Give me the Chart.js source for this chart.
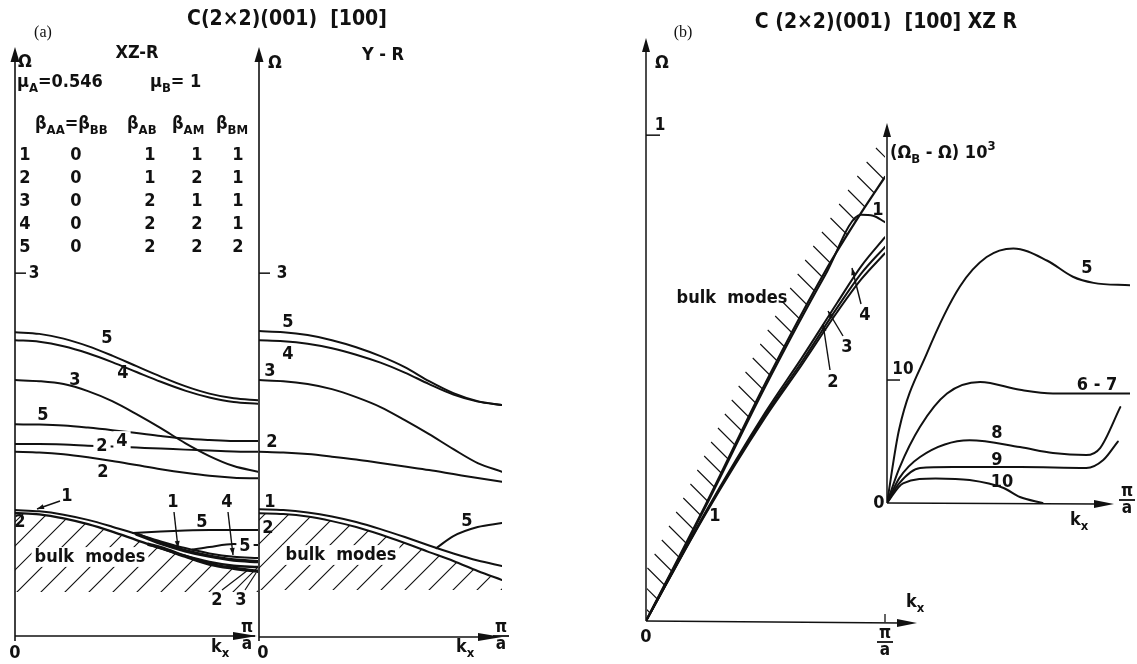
<!DOCTYPE html>
<html>
<head>
<meta charset="utf-8">
<script src="https://cdn.jsdelivr.net/npm/chart.js@4.4.0/dist/chart.umd.min.js"></script>
<style>
  html, body { margin: 0; padding: 0; background: #fff; overflow: hidden; }
  #wrap { position: relative; width: 1137px; height: 664px; }
  canvas { position: absolute; left: 0; top: 0; }
</style>
</head>
<body>
<div id="wrap">
  <canvas id="xz" width="1137" height="664"></canvas>
  <canvas id="yr" width="1137" height="664"></canvas>
  <canvas id="bm" width="1137" height="664"></canvas>
  <canvas id="bi" width="1137" height="664"></canvas>
</div>
<script>
// k_x in units of pi/a
const K11 = [0, 0.1, 0.2, 0.3, 0.4, 0.5, 0.6, 0.7, 0.8, 0.9, 1];

// (a) XZ-R, Omega values
const xz5  = [2.512, 2.498, 2.459, 2.397, 2.318, 2.231, 2.145, 2.066, 2.004, 1.965, 1.950];
const xz4  = [2.446, 2.433, 2.396, 2.338, 2.265, 2.183, 2.102, 2.029, 1.972, 1.934, 1.921];
const xz3  = [2.116, 2.107, 2.083, 2.025, 1.942, 1.835, 1.719, 1.595, 1.488, 1.405, 1.358];
const xz5m = [1.750, 1.748, 1.740, 1.723, 1.702, 1.678, 1.653, 1.632, 1.620, 1.612, 1.612];
const xz2m = [1.587, 1.587, 1.583, 1.574, 1.566, 1.558, 1.550, 1.541, 1.533, 1.526, 1.523];
const xz2l = [1.523, 1.517, 1.502, 1.477, 1.447, 1.413, 1.379, 1.349, 1.324, 1.309, 1.304];
const xz1  = [1.041, 1.031, 1.003, 0.960, 0.904, 0.843, 0.782, 0.727, 0.683, 0.655, 0.645];
const xz2b = [1.017, 1.006, 0.973, 0.925, 0.863, 0.793, 0.724, 0.662, 0.613, 0.581, 0.570];
const xz4bK = [0.5, 0.6, 0.7, 0.8, 0.9, 1.0];
const xz4b  = [0.843, 0.765, 0.705, 0.660, 0.628, 0.615];
const xz3bK = [0.55, 0.6, 0.7, 0.8, 0.9, 1.0];
const xz3b  = [0.758, 0.730, 0.660, 0.595, 0.560, 0.535];
const xz5cK = [0.486, 0.6, 0.7, 0.8, 0.9, 1.0];
const xz5c  = [0.851, 0.864, 0.872, 0.876, 0.876, 0.876];
const xz5dK = [0.73, 0.8, 0.9, 1.0];
const xz5d  = [0.715, 0.736, 0.760, 0.752];

// (a) Y-R
const yr5  = [2.521, 2.512, 2.488, 2.446, 2.388, 2.314, 2.223, 2.107, 2.008, 1.942, 1.909];
const yr4  = [2.446, 2.438, 2.417, 2.380, 2.326, 2.260, 2.178, 2.083, 1.996, 1.938, 1.909];
const yr3  = [2.116, 2.107, 2.083, 2.041, 1.975, 1.893, 1.785, 1.669, 1.545, 1.430, 1.358];
const yr2  = [1.523, 1.517, 1.504, 1.483, 1.459, 1.430, 1.401, 1.372, 1.339, 1.306, 1.275];
const yr1  = [1.047, 1.041, 1.021, 0.988, 0.942, 0.884, 0.818, 0.748, 0.682, 0.624, 0.579];
const yr2b = [1.014, 1.008, 0.988, 0.950, 0.901, 0.839, 0.769, 0.694, 0.620, 0.537, 0.463];
const yr5bK = [0.73, 0.8, 0.9, 1.0];
const yr5b  = [0.727, 0.826, 0.901, 0.934];

// (b) main, Omega
const bulkK = [0, 0.25, 0.5, 0.75, 0.9, 1];
const bulk  = [0, 0.24, 0.49, 0.72, 0.84, 0.914];
const b1K = [0, 0.25, 0.5, 0.75, 0.9, 0.95, 1];
const b1  = [0, 0.236, 0.483, 0.712, 0.836, 0.834, 0.821];
const bK  = [0, 0.25, 0.5, 0.65, 0.8, 0.9, 1];
const b4  = [0, 0.225, 0.430, 0.540, 0.655, 0.730, 0.790];
const b3  = [0, 0.223, 0.425, 0.532, 0.645, 0.715, 0.770];
const b2  = [0, 0.221, 0.420, 0.526, 0.636, 0.703, 0.757];

// (b) inset, (Omega_B - Omega) * 10^3
const in5K  = [0, 0.05, 0.165, 0.3, 0.41, 0.52, 0.66, 0.765, 0.85, 1];
const in5   = [0, 6.0, 12.2, 17.6, 20.0, 20.7, 19.7, 18.4, 17.9, 17.7];
const in67K = [0, 0.05, 0.136, 0.247, 0.383, 0.547, 0.683, 0.85, 1];
const in67  = [0, 2.8, 6.2, 8.9, 9.84, 9.2, 8.9, 8.9, 8.9];
const in8K  = [0, 0.05, 0.136, 0.34, 0.547, 0.683, 0.82, 0.877, 0.96];
const in8   = [0, 2.0, 3.74, 5.1, 4.55, 4.07, 3.9, 4.47, 7.8];
const in9K  = [0, 0.05, 0.136, 0.27, 0.55, 0.82, 0.89, 0.95];
const in9   = [0, 1.6, 2.85, 2.93, 2.93, 2.85, 3.5, 5.0];
const in10K = [0, 0.066, 0.2, 0.34, 0.48, 0.547, 0.64];
const in10  = [0, 1.6, 2.0, 1.87, 1.22, 0.49, 0];

const tabRows = [
  ['1', '0', '1', '1', '1'],
  ['2', '0', '1', '2', '1'],
  ['3', '0', '2', '1', '1'],
  ['4', '0', '2', '2', '1'],
  ['5', '0', '2', '2', '2']
];

const FONT = '"DejaVu Sans Condensed", "DejaVu Sans", sans-serif';
const INK = '#111';

function xy(ks, vs) { return vs.map((v, i) => ({ x: ks[i], y: v })); }
function ds(ks, vs, w) { return { data: xy(ks, vs), borderWidth: w || 2 }; }

function seg(ctx, x1, y1, x2, y2, w) {
  ctx.beginPath(); ctx.moveTo(x1, y1); ctx.lineTo(x2, y2);
  ctx.lineWidth = w || 1.5; ctx.strokeStyle = INK; ctx.stroke();
}
function head(ctx, x, y, ang, len, wid) {
  ctx.save(); ctx.translate(x, y); ctx.rotate(ang);
  ctx.beginPath(); ctx.moveTo(0, 0); ctx.lineTo(-len, -wid / 2); ctx.lineTo(-len, wid / 2); ctx.closePath();
  ctx.fillStyle = INK; ctx.fill(); ctx.restore();
}
function pointer(ctx, x1, y1, x2, y2) {
  seg(ctx, x1, y1, x2, y2, 1.4);
  head(ctx, x2, y2, Math.atan2(y2 - y1, x2 - x1), 7, 5);
}
function T(ctx, s, x, y, size, bg, align, fam) {
  ctx.font = (fam ? '' : 'bold ') + size + 'px ' + (fam || FONT);
  ctx.textAlign = align || 'center'; ctx.textBaseline = 'middle';
  if (bg) {
    const w = ctx.measureText(s).width;
    const x0 = align === 'left' ? x : x - w / 2;
    ctx.fillStyle = '#fff'; ctx.fillRect(x0 - 3, y - size * 0.55, w + 6, size * 1.1);
  }
  ctx.fillStyle = INK; ctx.fillText(s, x, y);
}
// left aligned text with sub/superscripts
function R(ctx, parts, x, y, size) {
  let cx = x;
  ctx.textAlign = 'left'; ctx.textBaseline = 'middle'; ctx.fillStyle = INK;
  for (const [t, m] of parts) {
    const s = m ? Math.round(size * 0.72) : size;
    ctx.font = 'bold ' + s + 'px ' + FONT;
    const dy = m === 'sub' ? size * 0.38 : m === 'sup' ? -size * 0.38 : 0;
    ctx.fillText(t, cx, y + dy);
    cx += ctx.measureText(t).width;
  }
}
function piA(ctx, x, y) {
  T(ctx, 'π', x, y, 17);
  seg(ctx, x - 8, y + 8, x + 8, y + 8, 1.8);
  T(ctx, 'a', x, y + 17, 17);
}
function kx(ctx, x, y) { R(ctx, [['k'], ['x', 'sub']], x, y, 18); }

// hatch "/" below a boundary curve (dataset index), down to value yLow
function hatchBelow(c, idx, yLow) {
  const ctx = c.ctx, meta = c.getDatasetMeta(idx), a = c.chartArea;
  const pts = meta.data, yl = c.scales.y.getPixelForValue(yLow);
  ctx.save();
  ctx.beginPath();
  if (meta.dataset && typeof meta.dataset.path === 'function') {
    meta.dataset.path(ctx);
  } else {
    pts.forEach((p, i) => i ? ctx.lineTo(p.x, p.y) : ctx.moveTo(p.x, p.y));
  }
  ctx.lineTo(pts[pts.length - 1].x, yl);
  ctx.lineTo(pts[0].x, yl);
  ctx.closePath();
  ctx.clip();
  ctx.beginPath();
  for (let x0 = a.left - 120; x0 < a.right + 10; x0 += 24) {
    ctx.moveTo(x0, yl + 2); ctx.lineTo(x0 + 110, yl - 108);
  }
  ctx.lineWidth = 1.1; ctx.strokeStyle = INK; ctx.stroke();
  ctx.restore();
}

function opts(area, ymax) {
  return {
    responsive: false, animation: false, devicePixelRatio: 1,
    layout: { padding: { left: area.l, top: area.t, right: 1137 - area.r, bottom: 664 - area.b } },
    scales: {
      x: { type: 'linear', min: 0, max: 1, display: false },
      y: { type: 'linear', min: 0, max: ymax, display: false }
    },
    plugins: { legend: { display: false }, tooltip: { enabled: false } },
    elements: {
      point: { radius: 0 },
      line: { borderColor: INK, cubicInterpolationMode: 'monotone', fill: false, borderCapStyle: 'round' }
    }
  };
}

function make(id, area, ymax, datasets, hatch, draw) {
  return new Chart(document.getElementById(id), {
    type: 'line',
    data: { datasets },
    options: opts(area, ymax),
    plugins: [{
      id: 'decor_' + id,
      beforeDatasetsDraw(c) { if (hatch) hatch(c); },
      afterDatasetsDraw(c) { draw(c, c.ctx); }
    }]
  });
}

// ---------- (a) XZ-R ----------
make('xz', { l: 15, r: 258, t: 47, b: 636 }, 4.87, [
  ds(K11, xz2b, 2.4), ds(K11, xz5), ds(K11, xz4), ds(K11, xz3), ds(K11, xz5m), ds(K11, xz2m),
  ds(K11, xz2l), ds(K11, xz1), ds(xz4bK, xz4b, 3.4), ds(xz3bK, xz3b, 3.4),
  ds(xz5cK, xz5c), ds(xz5dK, xz5d)
], c => hatchBelow(c, 0, 0.364), (c, ctx) => {
  const a = c.chartArea, y = c.scales.y;
  seg(ctx, a.left, a.bottom + 5, a.left, a.top + 12, 1.6); head(ctx, a.left, a.top, -Math.PI / 2, 15, 9);
  seg(ctx, a.left, a.bottom, a.right - 20, a.bottom, 1.6); head(ctx, a.right - 1, a.bottom, 0, 24, 8);
  const y3 = y.getPixelForValue(3);
  seg(ctx, a.left, y3, a.left + 11, y3, 1.5); T(ctx, '3', a.left + 19, y3, 17);

  T(ctx, 'C(2×2)(001)  [100]', 287, 20, 21);
  T(ctx, '(a)', 43, 33, 16, false, 'center', '"Liberation Serif", serif');
  T(ctx, 'XZ-R', 137, 53, 18);
  T(ctx, 'Ω', 25, 62, 18);
  R(ctx, [['μ'], ['A', 'sub'], ['=0.546']], 17, 82, 18);
  R(ctx, [['μ'], ['B', 'sub'], ['= 1']], 150, 82, 18);
  R(ctx, [['β'], ['AA', 'sub'], ['=β'], ['BB', 'sub']], 35, 124, 18);
  R(ctx, [['β'], ['AB', 'sub']], 127, 124, 18);
  R(ctx, [['β'], ['AM', 'sub']], 172, 124, 18);
  R(ctx, [['β'], ['BM', 'sub']], 216, 124, 18);
  const cols = [25, 76, 150, 197, 238];
  tabRows.forEach((row, i) => row.forEach((v, j) => T(ctx, v, cols[j], 155 + i * 23, 18)));

  T(ctx, 'bulk  modes', 90, 557, 18, true);
  T(ctx, '5', 107, 338, 18); T(ctx, '4', 123, 373, 18); T(ctx, '3', 75, 380, 18);
  T(ctx, '5', 43, 415, 18); T(ctx, '2', 102, 446, 18, true); T(ctx, '4', 122, 441, 18, true);
  T(ctx, '2', 103, 472, 18);
  T(ctx, '1', 67, 496, 18); pointer(ctx, 60, 501, 37, 509);
  T(ctx, '2', 20, 522, 18); T(ctx, '5', 202, 522, 18);
  T(ctx, '1', 173, 502, 18); pointer(ctx, 174, 512, 178, 548);
  T(ctx, '4', 227, 502, 18); pointer(ctx, 228, 512, 233, 555);
  T(ctx, '5', 245, 546, 18, true);
  T(ctx, '2', 217, 600, 18); seg(ctx, 222, 590, 248, 570, 1.2);
  T(ctx, '3', 241, 600, 18); seg(ctx, 245, 590, 256, 573, 1.2);

  T(ctx, '0', a.left, 653, 18);
  kx(ctx, 211, 647);
  piA(ctx, 247, 628);
});

// ---------- (a) Y-R ----------
make('yr', { l: 259, r: 502, t: 47, b: 636 }, 4.87, [
  ds(K11, yr2b), ds(K11, yr5), ds(K11, yr4), ds(K11, yr3), ds(K11, yr2), ds(K11, yr1),
  ds(yr5bK, yr5b)
], c => hatchBelow(c, 0, 0.38), (c, ctx) => {
  const a = c.chartArea, y = c.scales.y;
  seg(ctx, a.left, a.bottom + 5, a.left, a.top + 12, 1.6); head(ctx, a.left, a.top, -Math.PI / 2, 15, 9);
  seg(ctx, a.left, a.bottom + 1, a.right - 20, a.bottom + 1, 1.6); head(ctx, a.right, a.bottom + 1, 0, 24, 8);
  const y3 = y.getPixelForValue(3);
  seg(ctx, a.left, y3, a.left + 11, y3, 1.5); T(ctx, '3', a.left + 23, y3, 17);
  T(ctx, 'Ω', 275, 63, 18);
  T(ctx, 'Y - R', 383, 55, 18);
  T(ctx, 'bulk  modes', 341, 555, 18, true);
  T(ctx, '5', 288, 322, 18); T(ctx, '4', 288, 354, 18); T(ctx, '3', 270, 371, 18);
  T(ctx, '2', 272, 442, 18); T(ctx, '1', 270, 502, 18); T(ctx, '2', 268, 528, 18);
  T(ctx, '5', 467, 521, 18);
  T(ctx, '0', 263, 653, 18);
  kx(ctx, 456, 647);
  piA(ctx, 501, 628);
});

// ---------- (b) main ----------
make('bm', { l: 646, r: 885, t: 38, b: 621 }, 1.2, [
  ds(bulkK, bulk, 2.2), ds(b1K, b1), ds(bK, b4), ds(bK, b3), ds(bK, b2)
], c => {
  const ctx = c.ctx, a = c.chartArea, pts = c.getDatasetMeta(0).data;
  const n = pts.length;
  ctx.save();
  ctx.beginPath(); ctx.rect(a.left + 1, 0, a.right - a.left - 1, a.bottom); ctx.clip();
  ctx.beginPath();
  for (let yy = a.bottom - 8; yy > pts[n - 1].y - 40; yy -= 14) {
    let x;
    if (yy <= pts[n - 1].y) {
      const p = pts[n - 2], q = pts[n - 1];
      x = q.x + (yy - q.y) * (q.x - p.x) / (q.y - p.y);
    } else {
      for (let i = 1; i < n; i++) {
        if (yy <= pts[i - 1].y && yy >= pts[i].y) {
          const p = pts[i - 1], q = pts[i];
          x = p.x + (yy - p.y) * (q.x - p.x) / (q.y - p.y);
          break;
        }
      }
    }
    ctx.moveTo(x, yy); ctx.lineTo(x - 17, yy - 17);
  }
  ctx.lineWidth = 1.1; ctx.strokeStyle = INK; ctx.stroke();
  ctx.restore();
}, (c, ctx) => {
  const a = c.chartArea, y = c.scales.y;
  seg(ctx, a.left, a.bottom, a.left, a.top + 12, 1.5); head(ctx, a.left, a.top, -Math.PI / 2, 14, 8);
  seg(ctx, a.left, a.bottom, 900, a.bottom + 2, 1.5); head(ctx, 917, a.bottom + 2, 0, 20, 8);
  const y1 = y.getPixelForValue(1);
  seg(ctx, a.left, y1, a.left + 14, y1, 1.5); T(ctx, '1', a.left + 14, y1 - 10, 17);
  seg(ctx, a.right, a.bottom - 7, a.right, a.bottom + 1, 1.3);

  T(ctx, 'C (2×2)(001)  [100] XZ R', 886, 23, 21);
  T(ctx, '(b)', 683, 33, 16, false, 'center', '"Liberation Serif", serif');
  T(ctx, 'Ω', 662, 63, 18);
  T(ctx, 'bulk  modes', 732, 298, 18);
  T(ctx, '1', 878, 210, 18);
  T(ctx, '4', 865, 315, 18); pointer(ctx, 861, 304, 852, 268);
  T(ctx, '3', 847, 347, 18); pointer(ctx, 843, 336, 828, 311);
  T(ctx, '2', 833, 382, 18); pointer(ctx, 830, 370, 823, 324);
  T(ctx, '1', 715, 516, 18);
  T(ctx, '0', a.left, 637, 18);
  kx(ctx, 906, 602);
  piA(ctx, a.right, 634);
});

// ---------- (b) inset ----------
make('bi', { l: 887, r: 1130, t: 123, b: 503 }, 30.9, [
  ds(in5K, in5), ds(in67K, in67), ds(in8K, in8), ds(in9K, in9), ds(in10K, in10)
], null, (c, ctx) => {
  const a = c.chartArea, y = c.scales.y;
  seg(ctx, a.left, a.bottom, a.left, a.top + 12, 1.5); head(ctx, a.left, a.top, -Math.PI / 2, 14, 8);
  seg(ctx, a.left, a.bottom, 1096, a.bottom + 1, 1.5); head(ctx, 1114, a.bottom + 1, 0, 20, 8);
  const y10 = y.getPixelForValue(10);
  seg(ctx, a.left, y10, a.left + 13, y10, 1.5); T(ctx, '10', a.left + 16, y10 - 10, 17);
  R(ctx, [['(Ω'], ['B', 'sub'], [' - Ω) 10'], ['3', 'sup']], 890, 153, 18);
  T(ctx, '5', 1087, 268, 18);
  T(ctx, '6 - 7', 1097, 385, 18);
  T(ctx, '8', 997, 433, 18);
  T(ctx, '9', 997, 460, 18);
  T(ctx, '10', 1002, 482, 18);
  T(ctx, '0', a.left - 8, a.bottom, 18);
  kx(ctx, 1070, 520);
  piA(ctx, 1127, 492);
});
</script>
</body>
</html>
